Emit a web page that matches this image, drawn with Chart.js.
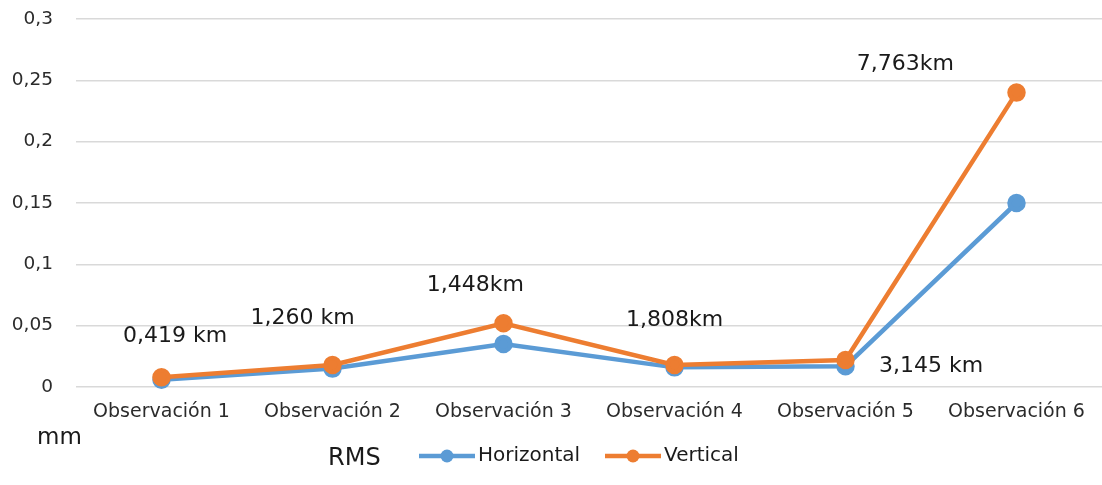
<!DOCTYPE html>
<html>
<head>
<meta charset="utf-8">
<script src="https://cdn.jsdelivr.net/npm/chart.js@4/dist/chart.umd.min.js"></script>
<style>
  html, body { margin: 0; padding: 0; background: #fff; overflow: hidden; }
  #wrap { width: 1102px; height: 485px; position: relative; }
</style>
</head>
<body>
<div id="wrap"><canvas id="grafico"></canvas></div>
<script>
// Datos
const categorias = ['Observación 1', 'Observación 2', 'Observación 3', 'Observación 4', 'Observación 5', 'Observación 6'];
const rmsHorizontal = [0.006, 0.015, 0.035, 0.016, 0.017, 0.15];
const rmsVertical = [0.008, 0.018, 0.052, 0.018, 0.022, 0.24];
const distancias = ['0,419 km', '1,260 km', '1,448km', '1,808km', '3,145 km', '7,763km'];
const ticksY = [0, 0.05, 0.1, 0.15, 0.2, 0.25, 0.3];

const AZUL = '#5B9BD5';
const NARANJA = '#ED7D31';
const FUENTE = '"DejaVu Sans", sans-serif';

// posicion de cada etiqueta de distancia (desplazamiento en categorias, valor y)
const posEtiquetas = [
  [0.08, 0.0415], [-0.175, 0.056], [-0.165, 0.083],
  [0, 0.0545], [0.5, 0.017], [-0.65, 0.263]
];

const extras = {
  id: 'extras',
  afterDraw(chart) {
    const c = chart.ctx;
    const x = chart.scales.x, y = chart.scales.y;
    c.save();
    c.fillStyle = '#1a1a1a';
    c.textBaseline = 'middle';
    c.textAlign = 'center';
    c.font = '22px ' + FUENTE;
    distancias.forEach((t, i) => {
      const p = posEtiquetas[i];
      const px = x.getPixelForValue(i) + p[0] * (x.getPixelForValue(1) - x.getPixelForValue(0));
      c.fillText(t, px, y.getPixelForValue(p[1]));
    });

    // unidad
    c.textAlign = 'left';
    c.font = '23px ' + FUENTE;
    c.fillText('mm', 37, 438);

    // leyenda
    const ly = 456;
    c.font = '24px ' + FUENTE;
    c.fillText('RMS', 328, ly + 3);
    const items = [['Horizontal', AZUL, 419], ['Vertical', NARANJA, 605]];
    c.font = '20px ' + FUENTE;
    items.forEach(([txt, col, x0]) => {
      c.strokeStyle = col;
      c.lineWidth = 4.5;
      c.beginPath();
      c.moveTo(x0, ly);
      c.lineTo(x0 + 56, ly);
      c.stroke();
      c.fillStyle = col;
      c.beginPath();
      c.arc(x0 + 28, ly, 6.5, 0, Math.PI * 2);
      c.fill();
      c.fillStyle = '#1a1a1a';
      c.fillText(txt, x0 + 59, ly);
    });
    c.restore();
  }
};

const config = {
  type: 'line',
  data: {
    labels: categorias,
    datasets: [
      {
        label: 'Horizontal',
        data: rmsHorizontal,
        borderColor: AZUL,
        backgroundColor: AZUL,
        borderWidth: 4.5,
        pointRadius: 7,
        pointHoverRadius: 7,
        tension: 0,
        clip: false,
        order: 1
      },
      {
        label: 'Vertical',
        data: rmsVertical,
        borderColor: NARANJA,
        backgroundColor: NARANJA,
        borderWidth: 4.5,
        pointRadius: 7,
        pointHoverRadius: 7,
        tension: 0,
        clip: false,
        order: 0
      }
    ]
  },
  options: {
    responsive: true,
    maintainAspectRatio: false,
    animation: false,
    layout: { autoPadding: false, padding: { top: 19, right: 0, left: 0, bottom: 0 } },
    plugins: {
      legend: { display: false },
      tooltip: { enabled: false }
    },
    scales: {
      x: {
        offset: true,
        grid: { display: false, drawTicks: false },
        border: { display: false },
        ticks: { color: '#2b2b2b', font: { family: FUENTE, size: 19 }, padding: 14, maxRotation: 0 },
        afterFit(s) { s.height = 98; s.paddingLeft = 0; s.paddingRight = 0; }
      },
      y: {
        min: 0,
        max: 0.3,
        afterBuildTicks(s) { s.ticks = ticksY.map(v => ({ value: v })); },
        grid: { color: '#d9d9d9', lineWidth: 1.5, drawTicks: false },
        border: { display: false },
        ticks: {
          color: '#2b2b2b',
          font: { family: FUENTE, size: 18.5 },
          padding: 23,
          callback: v => String(Math.round(v * 100) / 100).replace('.', ',')
        },
        afterFit(s) { s.width = 76; s.paddingTop = 0; s.paddingBottom = 0; }
      }
    }
  },
  plugins: [extras]
};

window.addEventListener('DOMContentLoaded', () => {
  new Chart(document.getElementById('grafico').getContext('2d'), config);
});
</script>
</body>
</html>
